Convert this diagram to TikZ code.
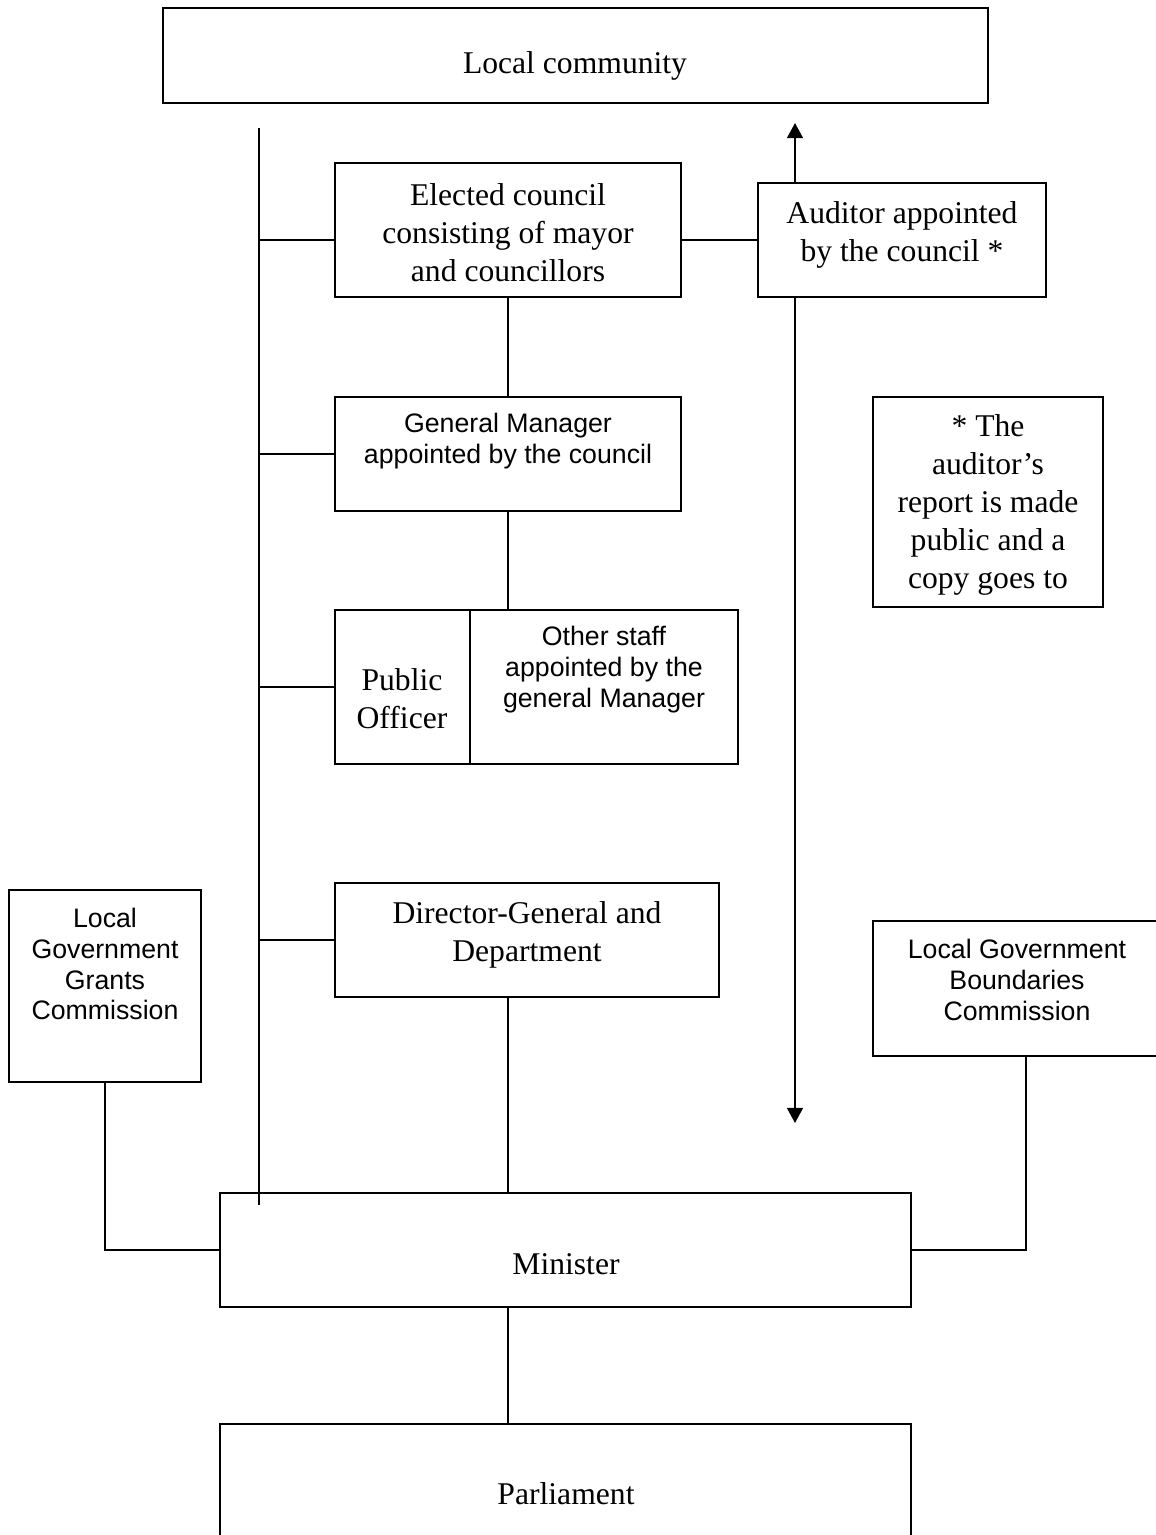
\documentclass[tikz,border=0pt]{standalone}
\usepackage{fontspec}
\setmainfont{Liberation Serif}
\newfontfamily\arialfont{Liberation Sans}
\usetikzlibrary{arrows.meta}

\begin{document}
\begin{tikzpicture}[
    line width=0.6pt,
    box/.style={draw, rectangle, inner sep=0pt},
    serif/.style={align=center, inner sep=0pt, font=\fontsize{9}{10.8}\selectfont},
    sans/.style={align=center, inner sep=0pt, font=\arialfont\fontsize{7.6}{8.8}\selectfont},
    tip/.style={-{Triangle[width=4.5pt, length=4.3pt]}},
]

% Page frame
\clip (0,0) rectangle (11.56,-15.35);

% Top: local community
\node[box, minimum width=8.25cm, minimum height=0.95cm] (comm) at (5.755,-0.555) {};
\node[serif] (commtxt) at (5.75,-0.66) {Local community};

% Council and auditor
\node[box, minimum width=3.46cm, minimum height=1.34cm] (council) at (5.08,-2.30) {};
\node[serif] (counciltxt) at (5.08,-2.33) {Elected council\\consisting of mayor\\and councillors};

\node[box, minimum width=2.88cm, minimum height=1.14cm] (auditor) at (9.02,-2.40) {};
\node[serif] (auditortxt) at (9.02,-2.35) {Auditor appointed\\by the council *};

% General manager
\node[box, minimum width=3.46cm, minimum height=1.14cm] (gm) at (5.08,-4.54) {};
\node[sans] (gmtxt) at (5.08,-4.415) {General Manager\\appointed by the council};

% Footnote
\node[box, minimum width=2.30cm, minimum height=2.10cm] (note) at (9.88,-5.02) {};
\node[serif] (notetxt) at (9.88,-5.05) {* The\\auditor's\\report is made\\public and a\\copy goes to};

% Public officer and other staff
\node[box, minimum width=1.35cm, minimum height=1.54cm] (po) at (4.025,-6.87) {};
\node[serif] (potxt) at (4.02,-6.99) {Public\\Officer};

\node[box, minimum width=2.68cm, minimum height=1.54cm] (staff) at (6.04,-6.87) {};
\node[sans] (stafftxt) at (6.04,-6.70) {Other staff\\appointed by the\\general Manager};

% Director-General
\node[box, minimum width=3.84cm, minimum height=1.14cm] (dg) at (5.27,-9.40) {};
\node[serif] (dgtxt) at (5.27,-9.35) {Director-General and\\Department};

% Commissions
\node[box, minimum width=1.92cm, minimum height=1.92cm] (grants) at (1.05,-9.86) {};
\node[sans] (grantstxt) at (1.05,-9.64) {Local\\Government\\Grants\\Commission};

\node[box, minimum width=3.06cm, minimum height=1.35cm] (bounds) at (10.26,-9.885) {};
\node[sans] (boundstxt) at (10.17,-9.80) {Local Government\\Boundaries\\Commission};

% Minister and parliament
\node[box, minimum width=6.91cm, minimum height=1.14cm] (minister) at (5.655,-12.50) {};
\node[serif] (ministertxt) at (5.66,-12.64) {Minister};

\node[box, minimum width=6.91cm, minimum height=1.36cm] (parl) at (5.655,-14.92) {};
\node[serif] (parltxt) at (5.66,-14.94) {Parliament};

% Left spine
\coordinate (spinetop) at (2.59,-1.28);
\coordinate (spinebot) at (2.59,-12.05);
\draw (spinetop) -- (spinebot);
\draw (spinetop |- auditor.west) -- (council.west |- auditor.west);
\draw (spinetop |- gm.west) -- (gm.west);
\draw (spinetop |- po.west) -- (po.west);
\draw (spinetop |- dg.west) -- (dg.west);

% Chain down the middle
\draw (council.east |- auditor.west) -- (auditor.west);
\draw (council.south) -- (gm.north);
\draw (gm.south) -- (gm.south |- staff.north);
\draw (gm.south |- dg.south) -- (gm.south |- minister.north);
\draw (gm.south |- minister.south) -- (gm.south |- parl.north);

% Commissions to minister
\draw (grants.south) |- (minister.west);
\draw (bounds.south) |- (minister.east);

% Auditor arrows
\coordinate (uptip) at (7.95,-1.23);
\coordinate (downtip) at (7.95,-11.23);
\draw[tip] (uptip |- auditor.north) -- (uptip);
\draw[tip] (downtip |- auditor.south) -- (downtip);

\end{tikzpicture}
\end{document}
